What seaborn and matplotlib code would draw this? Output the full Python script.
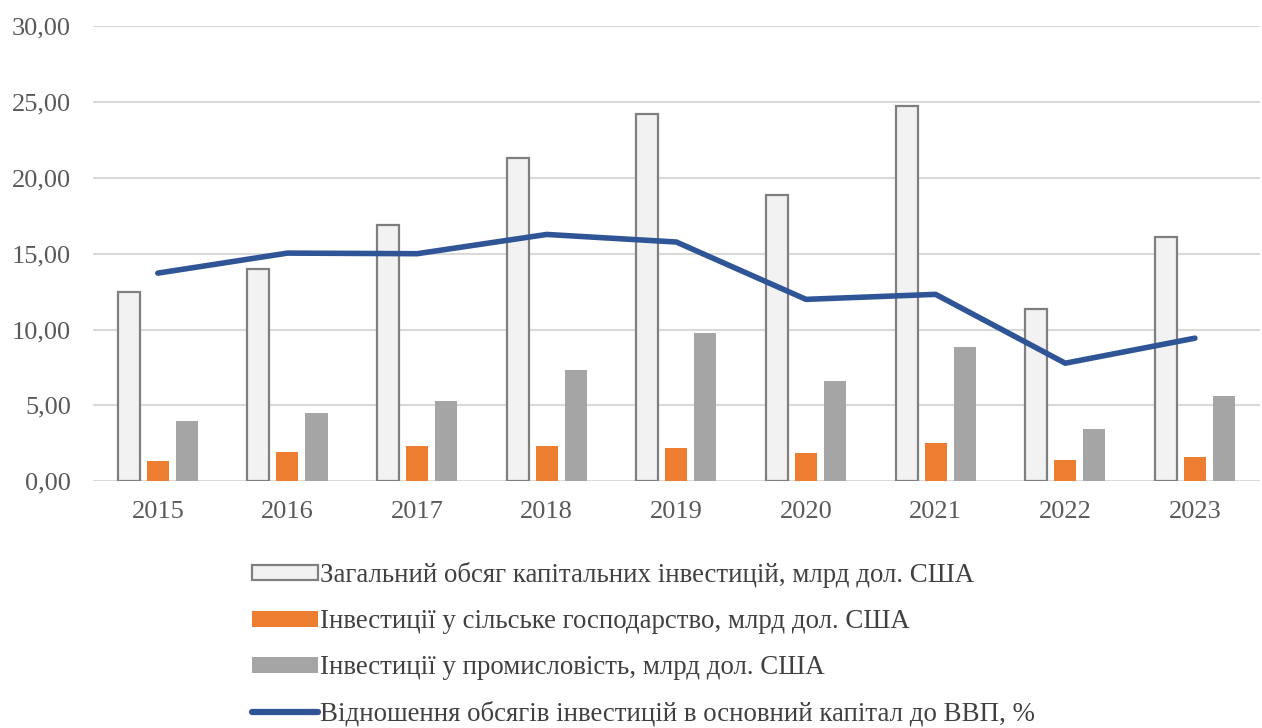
import pandas as pd
import matplotlib
matplotlib.use("Agg")
import matplotlib.pyplot as plt
from matplotlib.ticker import FuncFormatter
from matplotlib.patches import Patch
from matplotlib.lines import Line2D
import seaborn as sns
import numpy as np

years = ['2015', '2016', '2017', '2018', '2019', '2020', '2021', '2022', '2023']
total_inv = [12.47, 14.02, 16.87, 21.30, 24.18, 18.89, 24.72, 11.33, 16.10]
agri_inv = [1.32, 1.91, 2.31, 2.35, 2.20, 1.83, 2.49, 1.37, 1.58]
industry_inv = [3.94, 4.51, 5.28, 7.30, 9.76, 6.62, 8.84, 3.43, 5.61]
gdp_ratio = [13.72, 15.04, 15.00, 16.27, 15.77, 11.99, 12.32, 7.78, 9.43]

lbl_total = "Загальний обсяг капітальних інвестицій, млрд дол. США"
lbl_agri = "Інвестиції у сільське господарство, млрд дол. США"
lbl_ind = "Інвестиції у промисловість, млрд дол. США"
lbl_ratio = "Відношення обсягів інвестицій в основний капітал до ВВП, %"

sns.set_style("white")
plt.rcParams['font.family'] = ['Liberation Serif', 'DejaVu Serif']

# long table for grouped bars
df = pd.DataFrame({
    'year': years * 3,
    'value': total_inv + agri_inv + industry_inv,
    'series': [lbl_total] * 9 + [lbl_agri] * 9 + [lbl_ind] * 9,
})

fig = plt.figure(figsize=(12.62, 7.28), dpi=100)
ax = fig.add_axes([0.0737, 0.339, 0.9245, 0.625])

colors = ['#F2F2F2', '#ED7D31', '#A5A5A5']
sns.barplot(data=df, x='year', y='value', hue='series', palette=colors,
            width=0.672, gap=0.24, ax=ax, legend=False, saturation=1)

# outline only on the total-investment bars
for bar in ax.containers[0]:
    bar.set_edgecolor('#7F7F7F')
    bar.set_linewidth(1.6)
for c in ax.containers[1:]:
    for bar in c:
        bar.set_edgecolor('none')

sns.lineplot(x=np.arange(len(years)), y=gdp_ratio, color='#2F5597',
             linewidth=4, ax=ax, zorder=5)

ax.set_ylim(0, 30)
ax.set_yticks(np.arange(0, 31, 5))
ax.yaxis.set_major_formatter(FuncFormatter(lambda v, p: f"{v:.2f}".replace('.', ',')))
ax.set_xticks(range(len(years)))
ax.set_xticklabels(years)
ax.set_xlim(-0.5, len(years) - 0.5)
ax.set_xlabel('')
ax.set_ylabel('')

ax.grid(axis='y', color='#D9D9D9', linewidth=1.5)
ax.set_axisbelow(True)
for s in ax.spines.values():
    s.set_visible(False)
ax.tick_params(axis='both', length=0, labelsize=19, labelcolor='#595959')
ax.tick_params(axis='y', pad=16)
ax.tick_params(axis='x', pad=14)

handles = [
    Patch(facecolor='#F2F2F2', edgecolor='#7F7F7F', linewidth=1.6),
    Patch(facecolor='#ED7D31', edgecolor='none'),
    Patch(facecolor='#A5A5A5', edgecolor='none'),
    Line2D([], [], color='#2F5597', linewidth=4.5),
]
fig.legend(handles, [lbl_total, lbl_agri, lbl_ind, lbl_ratio],
           loc='upper left', bbox_to_anchor=(0.1887, 0.246), frameon=False,
           fontsize=19.4, handlelength=2.45, handleheight=0.5,
           handletextpad=0.08, labelspacing=0.78, borderpad=0,
           labelcolor='#404040')

fig.savefig("out.png", dpi=100)
